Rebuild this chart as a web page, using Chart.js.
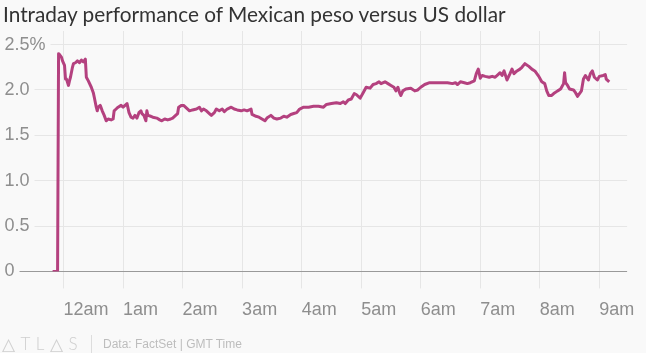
<!DOCTYPE html>
<html>
<head>
<meta charset="utf-8">
<script src="https://cdn.jsdelivr.net/npm/chart.js@4"></script>
<style>
  html, body { margin: 0; padding: 0; background: #f9f9f9; }
  #wrap { position: relative; width: 646px; height: 353px; overflow: hidden; }
  #chart { position: absolute; left: 0; top: 0; }
  .title {
    position: absolute; left: 3px; top: 1px;
    font-family: Lato, 'Open Sans', sans-serif; font-size: 20.8px; color: #333;
    white-space: nowrap;
  }
  .logo {
    position: absolute; left: 2px; top: 333px;
    font-family: Lato, 'DejaVu Sans', sans-serif; font-weight: 300;
    font-size: 17px; letter-spacing: 5.5px; color: #cfcfcf;
  }
  .sep { position: absolute; left: 91px; top: 335px; width: 1px; height: 18px; background: #ddd; }
  .source {
    position: absolute; left: 103px; top: 337px;
    font-family: 'Liberation Sans', Arial, sans-serif; font-size: 12px; color: #bdbdbd;
  }
</style>
</head>
<body>
<div id="wrap">
  <canvas id="chart" width="646" height="353"></canvas>
  <div class="title">Intraday performance of Mexican peso versus US dollar</div>
  <div class="logo">△TL△S</div>
  <div class="sep"></div>
  <div class="source">Data: FactSet | GMT Time</div>
</div>
<script>
// minutes from midnight GMT (negative = previous evening)
const minutes = [
  -11, -6, -5, -4, -2, -1, 1, 2, 3, 5, 6, 7, 9, 10, 12, 14, 16, 18, 20, 22,
  23, 25, 28, 30, 31, 33, 34, 35, 37, 39, 41, 43, 45, 48, 50, 51, 53, 55, 58, 60,
  62, 64, 66, 68, 70, 72, 74, 76, 78, 79, 81, 83, 84, 85, 88, 90, 94, 97, 99, 102,
  105, 108, 110, 113, 115, 116, 119, 121, 124, 127, 130, 134, 137, 139, 141, 144, 147, 149, 152, 154,
  157, 160, 162, 165, 169, 172, 175, 179, 182, 185, 189, 190, 194, 197, 200, 203, 205, 209, 212, 215,
  219, 222, 225, 229, 232, 235, 238, 242, 247, 252, 257, 262, 265, 270, 275, 279, 282, 284, 287, 290,
  293, 295, 299, 302, 305, 309, 312, 315, 318, 320, 324, 327, 330, 333, 335, 337, 339, 340, 342, 345,
  350, 354, 357, 360, 364, 369, 377, 387, 392, 395, 397, 400, 404, 407, 410, 414, 416, 418, 420, 422,
  425, 429, 432, 435, 439, 440, 442, 444, 447, 450, 452, 454, 457, 460, 462, 465, 469, 472, 475, 479,
  482, 485, 487, 489, 492, 494, 498, 501, 504, 505, 506, 508, 510, 514, 516, 518, 522, 524, 526, 529,
  531, 533, 535, 538, 540, 544, 546, 547, 550
];
// change vs US dollar, %
const pesoChange = [
  0, 0, 2.40, 2.39, 2.36, 2.32, 2.27, 2.12, 2.12, 2.05, 2.10, 2.14, 2.25, 2.29, 2.30, 2.32, 2.30, 2.33, 2.31, 2.34,
  2.14, 2.10, 2.03, 1.97, 1.92, 1.81, 1.77, 1.81, 1.83, 1.77, 1.72, 1.66, 1.68, 1.67, 1.68, 1.77, 1.79, 1.81, 1.83, 1.81,
  1.83, 1.85, 1.75, 1.70, 1.69, 1.72, 1.69, 1.75, 1.77, 1.74, 1.72, 1.66, 1.77, 1.72, 1.71, 1.70, 1.69, 1.67, 1.66, 1.68,
  1.67, 1.68, 1.69, 1.72, 1.74, 1.81, 1.83, 1.83, 1.80, 1.77, 1.78, 1.79, 1.81, 1.77, 1.79, 1.77, 1.74, 1.72, 1.75, 1.79,
  1.77, 1.79, 1.76, 1.79, 1.81, 1.79, 1.78, 1.77, 1.78, 1.77, 1.79, 1.73, 1.71, 1.70, 1.68, 1.66, 1.69, 1.72, 1.69, 1.68,
  1.69, 1.71, 1.70, 1.73, 1.74, 1.75, 1.79, 1.81, 1.81, 1.82, 1.82, 1.81, 1.84, 1.85, 1.86, 1.85, 1.87, 1.85, 1.89, 1.90,
  1.96, 1.95, 1.91, 1.97, 2.03, 2.02, 2.06, 2.07, 2.09, 2.07, 2.09, 2.07, 2.05, 2.03, 1.99, 2.03, 1.96, 1.94, 1.99, 2.01,
  2.02, 1.99, 2.00, 2.03, 2.06, 2.08, 2.08, 2.08, 2.07, 2.08, 2.06, 2.09, 2.08, 2.07, 2.08, 2.10, 2.18, 2.23, 2.13, 2.16,
  2.15, 2.14, 2.15, 2.14, 2.18, 2.19, 2.16, 2.21, 2.11, 2.18, 2.23, 2.18, 2.21, 2.23, 2.25, 2.29, 2.26, 2.23, 2.21, 2.15,
  2.09, 2.07, 1.99, 1.94, 1.94, 1.96, 1.99, 2.01, 2.07, 2.19, 2.08, 2.05, 2.01, 2.00, 1.97, 1.93, 1.99, 2.12, 2.16, 2.11,
  2.18, 2.21, 2.14, 2.11, 2.15, 2.16, 2.17, 2.12, 2.09
];
const hourTicks  = [0, 60, 120, 180, 240, 300, 360, 420, 480, 540];
const hourLabels = ['12am', '1am', '2am', '3am', '4am', '5am', '6am', '7am', '8am', '9am'];
const yTicks     = [0, 0.5, 1, 1.5, 2, 2.5];

const BG = '#f9f9f9';
const GRID = '#e6e6e6';

new Chart(document.getElementById('chart'), {
  type: 'line',
  data: {
    datasets: [{
      data: minutes.map((m, i) => ({ x: m, y: pesoChange[i] })),
      borderColor: '#b4417f',
      borderWidth: 3,
      pointRadius: 0,
      tension: 0,
      borderJoinStyle: 'round'
    }]
  },
  options: {
    responsive: false,
    animation: false,
    layout: { padding: { left: 0, right: 15, top: 31, bottom: 21 } },
    plugins: { legend: { display: false }, tooltip: { enabled: false } },
    scales: {
      x: {
        type: 'linear',
        min: -61,
        max: 568,
        afterBuildTicks: s => { s.ticks = hourTicks.map(v => ({ value: v })); },
        grid: { color: GRID, tickColor: GRID, tickLength: 17, lineWidth: 1 },
        border: { display: false },
        ticks: {
          align: 'start',
          padding: 11,
          color: '#8e8e8e',
          font: { family: "'Liberation Sans', Arial, sans-serif", size: 18 },
          callback: v => hourLabels[hourTicks.indexOf(v)]
        }
      },
      y: {
        min: 0,
        max: 2.65,
        afterBuildTicks: s => { s.ticks = yTicks.map(v => ({ value: v })); },
        grid: {
          drawTicks: false,
          color: c => c.tick && c.tick.value === 0 ? '#9a9a9a' : GRID
        },
        border: { display: false },
        ticks: {
          mirror: true,
          padding: 1.5,
          color: '#8e8e8e',
          font: { family: "'Liberation Sans', Arial, sans-serif", size: 18 },
          showLabelBackdrop: true,
          backdropColor: BG,
          backdropPadding: { left: 2, right: 5, top: 0, bottom: 0 },
          callback: v => v === 2.5 ? '2.5%' : (v === 0 ? '0' : v.toFixed(1))
        }
      }
    }
  }
});
</script>
</body>
</html>
